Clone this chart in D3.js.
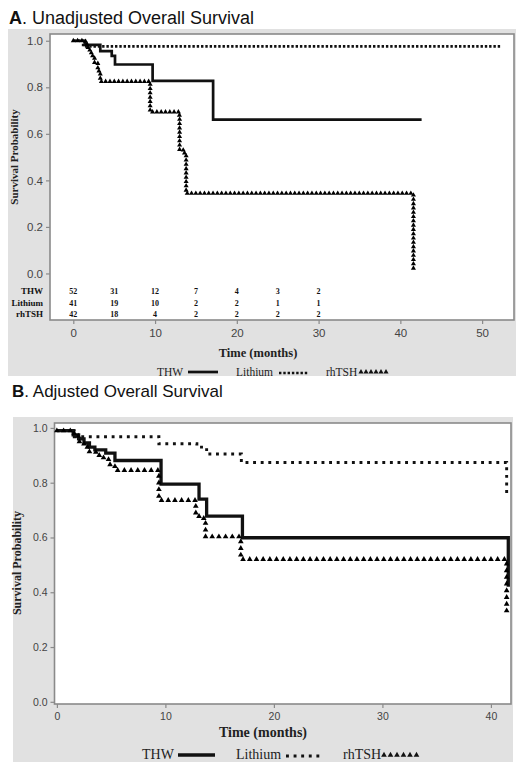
<!DOCTYPE html>
<html><head><meta charset="utf-8">
<script src="https://cdn.jsdelivr.net/npm/d3@7"></script>
<style>body{margin:0;background:#fff}svg{display:block}</style>
</head><body>
<svg id="c" width="525" height="771"></svg>
<script>
// ---------- DATA ----------
// Panel A step functions: [time (months), survival from that time on]
const thwA = [[0,1.0],[1.4,0.982],[3.3,0.955],[4.7,0.935],[5.1,0.898],[9.7,0.828],[17.1,0.661]];
const thwAEnd = 42.6;
const lithiumA = [[0,1.0],[1.2,0.976]];
const lithiumAEnd = 52.4;
const rhtshA = [[0,1.0],[1.5,0.985],[1.8,0.96],[2.2,0.935],[2.6,0.905],[3.0,0.87],[3.3,0.825],[9.4,0.694],[12.9,0.68],[13.0,0.53],[13.6,0.51],[13.8,0.344],[41.6,0.022]];
const rhtshAEnd = 41.6;
// Numbers at risk (panel A)
const riskTimes = [0,5,10,15,20,25,30];
const riskGroups = ["THW","Lithium","rhTSH"];
const thwRisk = [52,31,12,7,4,3,2];
const lithiumRisk = [41,19,10,2,2,1,1];
const rhtshRisk = [42,18,4,2,2,2,2];
// Panel B step functions
const thwB = [[0,0.99],[1.5,0.975],[2.0,0.96],[2.5,0.945],[3.0,0.93],[3.5,0.92],[4.5,0.908],[5.35,0.881],[9.6,0.795],[13.1,0.74],[13.8,0.678],[17.1,0.599],[41.6,0.42]];
const thwBEnd = 41.6;
const lithiumB = [[0,0.99],[1.6,0.968],[9.4,0.942],[12.9,0.93],[13.8,0.905],[17.0,0.874],[41.45,0.756]];
const lithiumBEnd = 41.45;
const rhtshB = [[0,0.99],[1.6,0.97],[2.0,0.95],[2.5,0.93],[3.0,0.912],[3.6,0.9],[4.3,0.885],[4.9,0.865],[5.35,0.845],[9.4,0.736],[12.8,0.69],[13.1,0.67],[13.7,0.603],[16.95,0.52],[41.45,0.327]];
const rhtshBEnd = 41.45;
// Tick labels
const xTicksA = [0,10,20,30,40,50];
const xTicksB = [0,10,20,30,40];
const yTicks = [0,0.2,0.4,0.6,0.8,1.0];
const legendLabels = ["THW","Lithium","rhTSH"];

// ---------- DRAW ----------
const svg = d3.select("#c");
const GRAY = "#e1e1e1", FRAME = "#8a8a8a", TICKCOL = "#444";

function stepPoints(steps, end, x, y){
  const pts = [];
  steps.forEach((s,i)=>{
    const tNext = i < steps.length-1 ? steps[i+1][0] : end;
    pts.push([x(s[0]), y(s[1])]);
    pts.push([x(tNext), y(s[1])]);
  });
  return pts;
}
const line = d3.line();

function markersAlong(g, pts, spacing, size){
  const p = g.append("path").attr("d", line(pts)).attr("fill","none").attr("stroke","none");
  const node = p.node(), L = node.getTotalLength();
  const sym = d3.symbol().type(d3.symbolTriangle).size(size);
  for(let l=0; l<=L+0.01; l+=spacing){
    const q = node.getPointAtLength(Math.min(l,L));
    g.append("path").attr("d", sym()).attr("transform",`translate(${q.x},${q.y})`).attr("fill","#000");
  }
  p.remove();
}

function panel(cfg){
  const g = svg.append("g");
  g.append("rect").attr("x",cfg.bg[0]).attr("y",cfg.bg[1]).attr("width",cfg.bg[2]).attr("height",cfg.bg[3]).attr("fill",GRAY);
  g.append("text").attr("x",cfg.title.x).attr("y",cfg.title.y)
    .attr("font-family","Liberation Sans, Arial, sans-serif").attr("font-size",cfg.title.size).attr("fill","#111")
    .call(t=>{t.append("tspan").attr("font-weight","bold").text(cfg.title.letter);
              t.append("tspan").text(". " + cfg.title.text);});
  const x = d3.scaleLinear().domain(cfg.xDom).range([cfg.L, cfg.R]);
  const y = d3.scaleLinear().domain(cfg.yDom).range([cfg.B, cfg.T]);
  g.append("rect").attr("x",cfg.L).attr("y",cfg.T).attr("width",cfg.R-cfg.L).attr("height",cfg.B-cfg.T)
    .attr("fill","#fff").attr("stroke",FRAME).attr("stroke-width",1.6);
  const ya = g.append("g").attr("transform",`translate(${cfg.L},0)`)
    .call(d3.axisLeft(y).tickValues(yTicks).tickFormat(d3.format(".1f")).tickSize(4).tickPadding(3));
  ya.select(".domain").remove();
  ya.selectAll("line").attr("stroke",FRAME).attr("stroke-width",1.2);
  ya.selectAll("text").attr("font-family","Liberation Sans, Arial, sans-serif").attr("font-size",cfg.tickSize).attr("fill",TICKCOL);
  const xa = g.append("g").attr("transform",`translate(0,${cfg.B})`)
    .call(d3.axisBottom(x).tickValues(cfg.xTicks).tickSize(4).tickPadding(cfg.xPad));
  xa.select(".domain").remove();
  xa.selectAll("line").attr("stroke",FRAME).attr("stroke-width",1.2);
  xa.selectAll("text").attr("font-family","Liberation Sans, Arial, sans-serif").attr("font-size",cfg.tickSize).attr("fill",TICKCOL);
  g.append("text").attr("transform",`translate(${cfg.yLab.x},${cfg.yLab.y}) rotate(-90)`).attr("text-anchor","middle")
    .attr("font-family","Liberation Serif, Times New Roman, serif").attr("font-weight","bold").attr("font-size",cfg.yLab.size)
    .attr("fill","#222").text("Survival Probability");
  g.append("text").attr("x",cfg.xLab.x).attr("y",cfg.xLab.y).attr("text-anchor","middle")
    .attr("font-family","Liberation Serif, Times New Roman, serif").attr("font-weight","bold").attr("font-size",cfg.xLab.size)
    .attr("fill","#222").text("Time (months)");
  g.append("path").attr("d", line(stepPoints(cfg.lith, cfg.lithEnd, x, y))).attr("fill","none")
    .attr("stroke","#111").attr("stroke-width",cfg.dotW).attr("stroke-dasharray",cfg.dash);
  g.append("path").attr("d", line(stepPoints(cfg.thw, cfg.thwEnd, x, y))).attr("fill","none")
    .attr("stroke","#111").attr("stroke-width",cfg.solidW);
  markersAlong(g, stepPoints(cfg.rh, cfg.rhEnd, x, y), cfg.triSpace, cfg.triSize);
  const lg = g.append("g").attr("font-family","Liberation Serif, Times New Roman, serif").attr("font-size",cfg.leg.size).attr("fill","#222");
  const ly = cfg.leg.y;
  lg.append("text").attr("x",cfg.leg.x[0]).attr("y",ly).text(legendLabels[0]);
  lg.append("line").attr("x1",cfg.leg.s[0][0]).attr("x2",cfg.leg.s[0][1]).attr("y1",ly-4).attr("y2",ly-4).attr("stroke","#111").attr("stroke-width",cfg.solidW);
  lg.append("text").attr("x",cfg.leg.x[1]).attr("y",ly).text(legendLabels[1]);
  lg.append("line").attr("x1",cfg.leg.s[1][0]).attr("x2",cfg.leg.s[1][1]).attr("y1",ly-3).attr("y2",ly-3).attr("stroke","#111").attr("stroke-width",cfg.dotW).attr("stroke-dasharray",cfg.dash);
  lg.append("text").attr("x",cfg.leg.x[2]).attr("y",ly).text(legendLabels[2]);
  const sym = d3.symbol().type(d3.symbolTriangle).size(cfg.triSize);
  for(let xx=cfg.leg.s[2][0]; xx<=cfg.leg.s[2][1]; xx+=cfg.leg.triStep){
    lg.append("path").attr("d",sym()).attr("transform",`translate(${xx},${ly-4})`).attr("fill","#111");
  }
  return {g,x,y};
}

// Panel A
const A = panel({
  bg:[8,29,508,347], title:{x:9,y:24,size:18,letter:"A",text:"Unadjusted Overall Survival"},
  L:50,R:514,T:34,B:320, xDom:[-2.85,53.9], yDom:[-0.2,1.029],
  xTicks:xTicksA, tickSize:11.5, xPad:5,
  yLab:{x:18,y:157,size:11}, xLab:{x:258,y:357,size:12.5},
  thw:thwA, thwEnd:thwAEnd, lith:lithiumA, lithEnd:lithiumAEnd, rh:rhtshA, rhEnd:rhtshAEnd,
  solidW:2.7, dotW:2.6, dash:"2.4,1.9", triSpace:4.3, triSize:11,
  leg:{y:376,size:11.5,x:[157,236,326],s:[[188,218],[279,308],[361,390]],triStep:5}
});
// Number-at-risk table
const rowY = [291,302.5,313.5];
const riskRows = [thwRisk, lithiumRisk, rhtshRisk];
riskGroups.forEach((name,i)=>{
  A.g.append("text").attr("x",43).attr("y",rowY[i]+3).attr("text-anchor","end")
    .attr("font-family","Liberation Serif, Times New Roman, serif").attr("font-weight","bold").attr("font-size",9).attr("fill","#111").text(name);
  riskRows[i].forEach((v,j)=>{
    A.g.append("text").attr("x",A.x(riskTimes[j])).attr("y",rowY[i]+3).attr("text-anchor","middle")
      .attr("font-family","Liberation Serif, Times New Roman, serif").attr("font-weight","bold").attr("font-size",8).attr("fill","#111").text(v);
  });
});

// Panel B
panel({
  bg:[13,417,500,345], title:{x:12,y:397,size:17,letter:"B",text:"Adjusted Overall Survival"},
  L:54.5,R:511,T:423,B:704, xDom:[-0.22,41.85], yDom:[-0.008,1.018],
  xTicks:xTicksB, tickSize:10.5, xPad:5,
  yLab:{x:21,y:563,size:12}, xLab:{x:263,y:737,size:14},
  thw:thwB, thwEnd:thwBEnd, lith:lithiumB, lithEnd:lithiumBEnd, rh:rhtshB, rhEnd:rhtshBEnd,
  solidW:3.3, dotW:2.9, dash:"2.9,4.7", triSpace:6.7, triSize:14,
  leg:{y:759,size:14,x:[142,236,343],s:[[178,215],[286,322],[384,418]],triStep:6.5}
});
</script>
</body></html>
